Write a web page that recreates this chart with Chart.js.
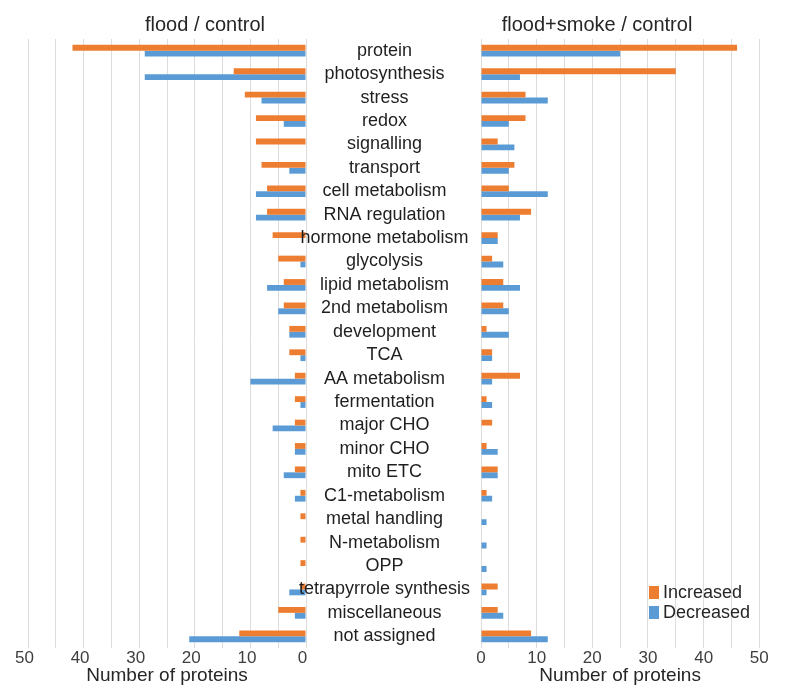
<!DOCTYPE html>
<html>
<head>
<meta charset="utf-8">
<script src="https://cdn.jsdelivr.net/npm/chart.js@4.4.1/dist/chart.umd.min.js"></script>
<style>
  html, body { margin: 0; padding: 0; background: #fff; }
  #wrap { position: relative; width: 788px; height: 698px; overflow: hidden; font-family: "Liberation Sans", Arial, sans-serif; color: #262626; }
  canvas { position: absolute; top: 0; }
  #leftChart { left: 0; }
  #rightChart { left: 280px; }
  .panelTitle { position: absolute; top: 12px; font-size: 20px; line-height: 24px; white-space: nowrap; transform: translateX(-50%); }
  .legendBox { position: absolute; left: 649px; width: 10px; height: 13px; }
  .legendText { position: absolute; left: 663px; font-size: 18px; line-height: 20px; white-space: nowrap; }
</style>
</head>
<body>
<div id="wrap">
  <canvas id="leftChart" width="316" height="698"></canvas>
  <canvas id="rightChart" width="508" height="698"></canvas>
  <div class="panelTitle" style="left:205px">flood / control</div>
  <div class="panelTitle" style="left:597px">flood+smoke / control</div>
  <div class="legendBox" style="top:586px;background:#ED7D31"></div>
  <div class="legendText" style="top:582px">Increased</div>
  <div class="legendBox" style="top:606px;background:#5B9BD5"></div>
  <div class="legendText" style="top:602px">Decreased</div>
</div>
<script>
const categories = ["protein", "photosynthesis", "stress", "redox", "signalling", "transport",
  "cell metabolism", "RNA regulation", "hormone metabolism", "glycolysis", "lipid metabolism",
  "2nd metabolism", "development", "TCA", "AA metabolism", "fermentation", "major CHO",
  "minor CHO", "mito ETC", "C1-metabolism", "metal handling", "N-metabolism", "OPP",
  "tetrapyrrole synthesis", "miscellaneous", "not assigned"];

const floodIncreased = [42, 13, 11, 9, 9, 8, 7, 7, 6, 5, 4, 4, 3, 3, 2, 2, 2, 2, 2, 1, 1, 1, 1, 1, 5, 12];
const floodDecreased = [29, 29, 8, 4, 0, 3, 9, 9, 0, 1, 7, 5, 3, 1, 10, 1, 6, 2, 4, 2, 0, 0, 0, 3, 2, 21];
const smokeIncreased = [46, 35, 8, 8, 3, 6, 5, 9, 3, 2, 4, 4, 1, 2, 7, 1, 2, 1, 3, 1, 0, 0, 0, 3, 3, 9];
const smokeDecreased = [25, 7, 12, 5, 6, 5, 12, 7, 3, 4, 7, 5, 5, 2, 2, 2, 0, 3, 3, 2, 1, 1, 1, 1, 4, 12];

const tickLabels = [0, 10, 20, 30, 40, 50];

Chart.defaults.font.family = '"Liberation Sans", Arial, sans-serif';

function makeDatasets(inc, dec) {
    return [
        { label: "Increased", data: inc, backgroundColor: "#ED7D31", categoryPercentage: 0.5, barPercentage: 1 },
        { label: "Decreased", data: dec, backgroundColor: "#5B9BD5", categoryPercentage: 0.5, barPercentage: 1 }
    ];
}

function xScale(reversed, shift) {
    return {
        min: 0,
        max: 50,
        reverse: reversed,
        afterFit: function(s) { s.height = 50; },
        grid: { color: "#dcdcdc", drawTicks: false },
        border: { display: false },
        ticks: {
            stepSize: 5,
            autoSkip: false,
            maxRotation: 0,
            padding: 0,
            labelOffset: shift,
            color: "#404040",
            font: { size: 17 },
            callback: function(v) { return tickLabels.includes(v) ? v : ""; }
        },
        title: {
            display: true,
            text: "Number of proteins",
            color: "#262626",
            font: { size: 19 },
            padding: { top: 0, bottom: 11 }
        }
    };
}

var left = new Chart(document.getElementById("leftChart"), {
    type: "bar",
    data: { labels: categories, datasets: makeDatasets(floodIncreased, floodDecreased) },
    options: {
        indexAxis: "y",
        responsive: false,
        animation: false,
        layout: { padding: { left: 28, right: 10, top: 39, bottom: 0 } },
        plugins: { legend: { display: false }, tooltip: { enabled: false } },
        scales: {
            x: xScale(true, -3.5),
            y: { display: false }
        }
    }
});

// category names sit in the right chart's y axis, which spans the gap between the panels
var right = new Chart(document.getElementById("rightChart"), {
    type: "bar",
    data: { labels: categories, datasets: makeDatasets(smokeIncreased, smokeDecreased) },
    options: {
        indexAxis: "y",
        responsive: false,
        animation: false,
        layout: { padding: { left: 1, right: 28.7, top: 39, bottom: 0 } },
        plugins: { legend: { display: false }, tooltip: { enabled: false } },
        scales: {
            x: xScale(false, 0),
            y: {
                position: "left",
                afterFit: function(s) { s.width = 200; },
                grid: { display: false },
                border: { display: false },
                ticks: {
                    autoSkip: false,
                    crossAlign: "center",
                    padding: 3,
                    color: "#1f1f1f",
                    font: { size: 18 }
                }
            }
        }
    }
});
</script>
</body>
</html>
